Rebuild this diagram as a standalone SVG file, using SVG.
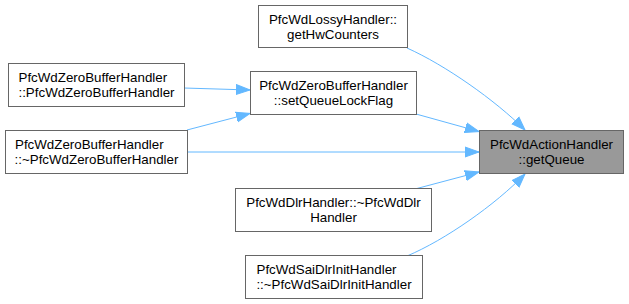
<svg xmlns="http://www.w3.org/2000/svg" width="629" height="304" viewBox="0 0 629 304">
  <style>
    .box { fill: #ffffff; stroke: #666666; stroke-width: 1; }
    .hl { fill: #999999; stroke: #666666; stroke-width: 1; }
    .lbl { font-family: "Liberation Sans", Arial, sans-serif; font-size: 13.33px; fill: #000000; }
    .mid { text-anchor: middle; }
    .edge { fill: none; stroke: #63b8ff; stroke-width: 1; }
  </style>
  <defs>
    <marker id="arrow" markerUnits="userSpaceOnUse" markerWidth="16" markerHeight="12" refX="14" refY="6" orient="auto" viewBox="0 0 16 12">
      <path d="M0,1 L14,6 L0,11 z" fill="#63b8ff" stroke="#63b8ff" stroke-width="1"/>
    </marker>
  </defs>

  <rect width="629" height="304" fill="#ffffff"/>

  <!-- call edges -->
  <g id="edges">
    <path class="edge" marker-end="url(#arrow)" d="M407,48 C445,65 495,100 525,130"/>
    <path class="edge" marker-end="url(#arrow)" d="M416,114 L479,131.5"/>
    <path class="edge" marker-end="url(#arrow)" d="M188,152 L479,152"/>
    <path class="edge" marker-end="url(#arrow)" d="M415,189 L479,172"/>
    <path class="edge" marker-end="url(#arrow)" d="M407,256 C445,240 495,205 525,174"/>
    <path class="edge" marker-end="url(#arrow)" d="M184,88 L250,90"/>
    <path class="edge" marker-end="url(#arrow)" d="M187,130 L250,113.5"/>
  </g>

  <g id="node-getHwCounters">
    <rect class="box" x="258.5" y="5.5" width="149" height="42"/>
    <text class="lbl mid" x="333" y="23.5">PfcWdLossyHandler::</text>
    <text class="lbl mid" x="333" y="38.5">getHwCounters</text>
  </g>

  <g id="node-setQueueLockFlag">
    <rect class="box" x="250.5" y="71.5" width="166" height="43"/>
    <text class="lbl mid" x="333.5" y="90">PfcWdZeroBufferHandler</text>
    <text class="lbl mid" x="333.5" y="105">::setQueueLockFlag</text>
  </g>

  <g id="node-zeroBufferCtor">
    <rect class="box" x="8.5" y="63.5" width="176" height="43"/>
    <text class="lbl" x="18.5" y="82">PfcWdZeroBufferHandler</text>
    <text class="lbl mid" x="96.5" y="97">::PfcWdZeroBufferHandler</text>
  </g>

  <g id="node-zeroBufferDtor">
    <rect class="box" x="5.5" y="130.5" width="182" height="43"/>
    <text class="lbl" x="15" y="149">PfcWdZeroBufferHandler</text>
    <text class="lbl mid" x="96.5" y="164">::~PfcWdZeroBufferHandler</text>
  </g>

  <g id="node-getQueue">
    <rect class="hl" x="479.5" y="130.5" width="144" height="43"/>
    <text class="lbl mid" x="551.5" y="149">PfcWdActionHandler</text>
    <text class="lbl mid" x="551.5" y="164">::getQueue</text>
  </g>

  <g id="node-dlrDtor">
    <rect class="box" x="235.5" y="188.5" width="196" height="43"/>
    <text class="lbl mid" x="333.5" y="207">PfcWdDlrHandler::~PfcWdDlr</text>
    <text class="lbl mid" x="333.5" y="222">Handler</text>
  </g>

  <g id="node-saiDlrInitDtor">
    <rect class="box" x="245.5" y="255.5" width="177" height="43"/>
    <text class="lbl" x="256.5" y="274">PfcWdSaiDlrInitHandler</text>
    <text class="lbl mid" x="334" y="289">::~PfcWdSaiDlrInitHandler</text>
  </g>
</svg>
